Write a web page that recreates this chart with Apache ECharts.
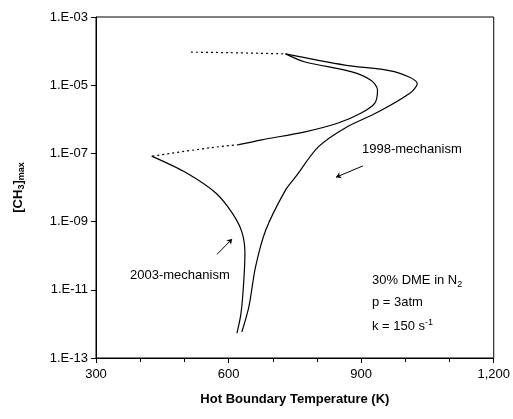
<!DOCTYPE html><html><head><meta charset="utf-8">
<script src="https://cdn.jsdelivr.net/npm/echarts@6/dist/echarts.min.js"></script>
<style>body{margin:0}#c{width:513px;height:419px}</style></head><body><div id="c"></div>
<script>
const topDottedT=[515,600,729], topDottedV=[9.3e-5,9.0e-5,8.3e-5];
const m2003T=[729,773,877,922,937,931,899,848,773,675,623];
const m2003V=[8.3e-5,4.8e-5,2.5e-5,1.4e-5,7.2e-6,3.0e-6,1.5e-6,7.8e-7,4.3e-7,2.5e-7,1.8e-7];
const m2003dotT=[623,556,426], m2003dotV=[1.8e-7,1.45e-7,8.3e-8];
const m2003lowT=[426,504,571,608,630,637,634,628,619];
const m2003lowV=[8.3e-8,2.7e-8,6.9e-9,1.8e-9,5e-10,1.2e-10,1.5e-11,2e-12,5.4e-13];
const m1998T=[729,863,975,1027,1011,937,863,803,751,729,684,661,646,630];
const m1998V=[8.3e-5,3.9e-5,2.5e-5,1.1e-5,5.9e-6,1.6e-6,5.5e-7,1.55e-7,2.0e-8,8.5e-9,5.6e-10,4.7e-11,3.2e-12,5.8e-13];
const xTicks=[300,600,900,1200];
const line=(T,V,type)=>({type:'line',data:T.map((t,i)=>[t,V[i]]),smooth:0.3,symbol:'none',
  lineStyle:{color:'#000',width:1.2,type:type||'solid'}});
const ch=echarts.init(document.getElementById('c'));
ch.setOption({animation:false,
 grid:{left:96,right:16,top:17,bottom:61,show:true,borderColor:'#000',borderWidth:1},
 xAxis:{type:'value',min:300,max:1200,interval:300,minorTick:{show:true,splitNumber:3,length:4,lineStyle:{color:'#000'}},
  axisLine:{lineStyle:{color:'#000'}},axisTick:{length:5,lineStyle:{color:'#000'}},splitLine:{show:false},
  axisLabel:{color:'#000',fontSize:13,fontFamily:'Liberation Sans',margin:10},
  name:'Hot Boundary Temperature (K)',nameLocation:'middle',nameGap:35,
  nameTextStyle:{color:'#000',fontWeight:'bold',fontSize:13,fontFamily:'Liberation Sans'}},
 yAxis:{type:'log',logBase:10,min:1e-13,max:1e-3,interval:2,
  axisLine:{lineStyle:{color:'#000'}},axisTick:{length:5,lineStyle:{color:'#000'}},splitLine:{show:false},
  axisLabel:{color:'#000',fontSize:13,fontFamily:'Liberation Sans',
   formatter:v=>{const e=Math.round(Math.log10(v));return '1.E-'+String(-e).padStart(2,'0');}},
  name:'{b|[CH}{s|3}{b|]}{s|max}',nameLocation:'middle',nameGap:70,
  nameTextStyle:{rich:{b:{fontWeight:'bold',fontSize:13,fontFamily:'Liberation Sans',color:'#000'},
   s:{fontWeight:'bold',fontSize:9,fontFamily:'Liberation Sans',color:'#000',verticalAlign:'bottom',padding:[6,0,0,0]}}}},
 series:[line(topDottedT,topDottedV,[2,3]),line(m2003T,m2003V),line(m2003dotT,m2003dotV,[2,3]),
  line(m2003lowT,m2003lowV),line(m1998T,m1998V),
  {type:'lines',coordinateSystem:'cartesian2d',symbol:['none','arrow'],symbolSize:5,
   lineStyle:{color:'#000',width:1,opacity:1},
   data:[{coords:[[904,4.3e-8],[843,2.0e-8]]},{coords:[[574,1.1e-10],[608,3.1e-10]]}]}],
 graphic:[
  {type:'text',left:362,top:143,style:{text:'1998-mechanism',font:'13px Liberation Sans',fill:'#000'}},
  {type:'text',left:130,top:269,style:{text:'2003-mechanism',font:'13px Liberation Sans',fill:'#000'}},
  {type:'text',left:372,top:274,style:{text:'{n|30% DME in N}{s|2}',rich:{n:{font:'13px Liberation Sans',fill:'#000'},s:{font:'9px Liberation Sans',fill:'#000',padding:[8,0,0,0]}}}},
  {type:'text',left:372,top:296,style:{text:'p = 3atm',font:'13px Liberation Sans',fill:'#000'}},
  {type:'text',left:372,top:318,style:{text:'{n|k = 150 s}{s|-1}',rich:{n:{font:'13px Liberation Sans',fill:'#000'},s:{font:'9px Liberation Sans',fill:'#000',padding:[0,0,8,0]}}}}
 ]});
</script></body></html>
